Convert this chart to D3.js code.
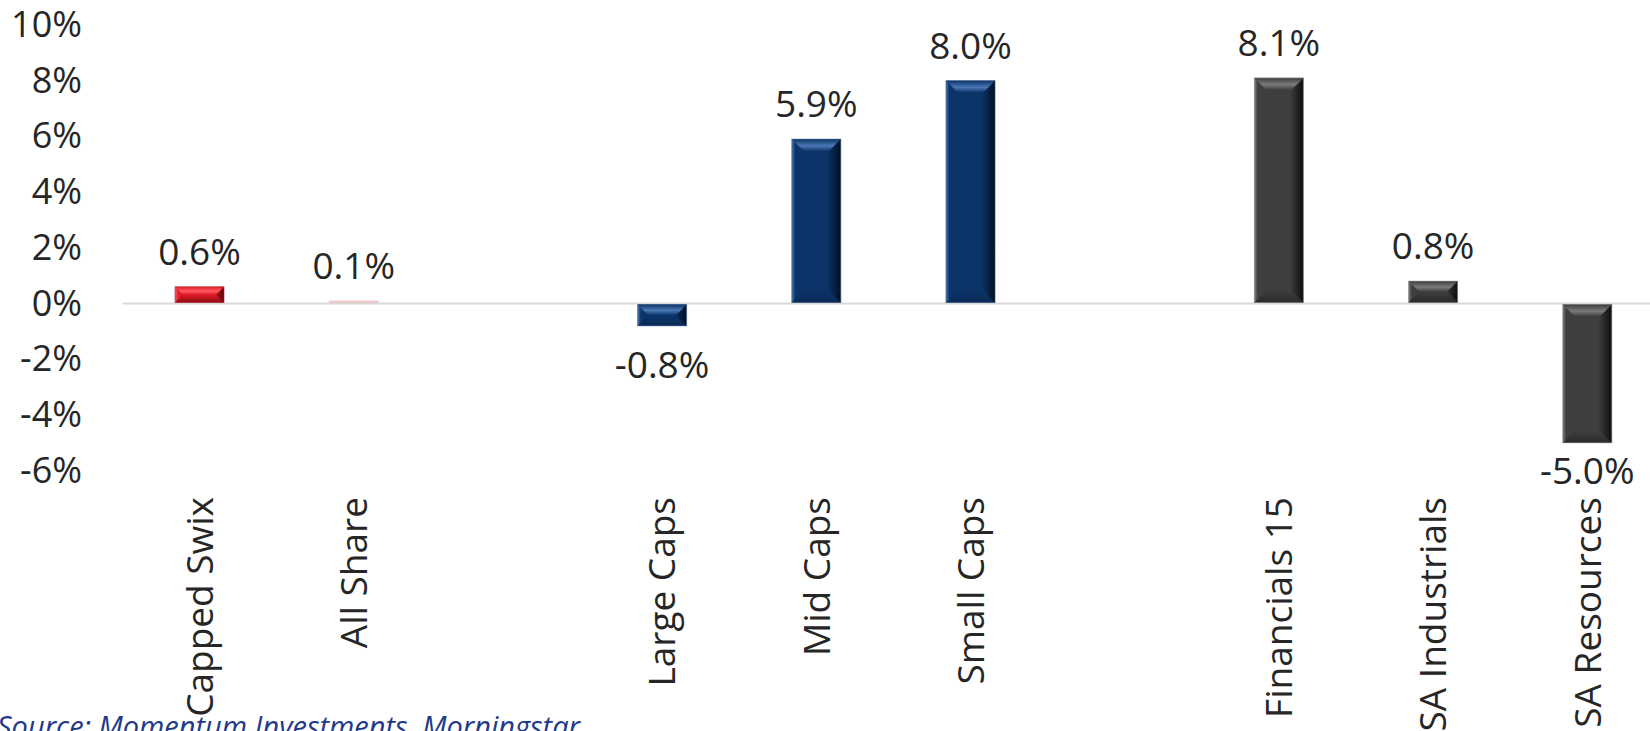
<!DOCTYPE html>
<html>
<head>
<meta charset="utf-8">
<script src="https://cdn.jsdelivr.net/npm/d3@7"></script>
<style>
  body { margin: 0; background: #fff; }
  svg { display: block; font-family: "Open Sans", "Noto Sans", sans-serif; }
</style>
</head>
<body>
<div id="chart"></div>
<script>
// Index returns (%), blank slots separate the groups
const categories = ["Capped Swix", "All Share", "", "Large Caps", "Mid Caps", "Small Caps", "", "Financials 15", "SA Industrials", "SA Resources"];
const returns = [0.6, 0.1, null, -0.8, 5.9, 8.0, null, 8.1, 0.8, -5.0];
const groups = ["index", "index", null, "size", "size", "size", null, "sector", "sector", "sector"];
const yTicks = [-6, -4, -2, 0, 2, 4, 6, 8, 10];
const source = "Source: Momentum Investments, Morningstar";

const W = 1650, H = 731;
const plot = { left: 122.4, right: 1664.4, top: 25, bottom: 470.6 };

// bevel colours per group: body, highlight, shadow, edge
const palette = {
  index:  { base: "#e01b25", hi: "#ff5a62", lo: "#8a0c12", dark: "#5c0508", edge: "#b0343a" },
  size:   { base: "#0b3469", hi: "#4a78b4", lo: "#0a2a55", dark: "#020f22", edge: "#3b5a86" },
  sector: { base: "#3e3e3e", hi: "#7a7a7a", lo: "#2a2a2a", dark: "#0e0e0e", edge: "#808080" }
};

const svg = d3.select("#chart")
  .append("svg")
    .attr("width", W)
    .attr("height", H);

const defs = svg.append("defs");
Object.entries(palette).forEach(([k, c]) => {
  const side = defs.append("linearGradient").attr("id", `side-${k}`)
    .attr("x1", 0).attr("x2", 1).attr("y1", 0).attr("y2", 0);
  side.append("stop").attr("offset", "0%").attr("stop-color", c.hi);
  side.append("stop").attr("offset", "7%").attr("stop-color", c.base);
  side.append("stop").attr("offset", "72%").attr("stop-color", c.base);
  side.append("stop").attr("offset", "100%").attr("stop-color", c.dark);

  const top = defs.append("linearGradient").attr("id", `top-${k}`)
    .attr("x1", 0).attr("x2", 0).attr("y1", 0).attr("y2", 1);
  top.append("stop").attr("offset", "0%").attr("stop-color", c.base);
  top.append("stop").attr("offset", "55%").attr("stop-color", c.hi);
  top.append("stop").attr("offset", "100%").attr("stop-color", c.base);

  const bot = defs.append("linearGradient").attr("id", `bot-${k}`)
    .attr("x1", 0).attr("x2", 0).attr("y1", 0).attr("y2", 1);
  bot.append("stop").attr("offset", "0%").attr("stop-color", c.base);
  bot.append("stop").attr("offset", "100%").attr("stop-color", c.lo);
});

const x = d3.scaleBand()
  .domain(d3.range(categories.length))
  .range([plot.left, plot.right])
  .paddingInner(0.682)
  .paddingOuter(0.341);

const y = d3.scaleLinear()
  .domain([-6, 10])
  .range([plot.bottom, plot.top]);

// Y axis
const yAxis = svg.append("g")
  .attr("transform", "translate(92,0)")
  .call(d3.axisLeft(y).tickValues(yTicks).tickSize(0).tickPadding(10).tickFormat(d => d + "%"));
yAxis.select(".domain").remove();
yAxis.selectAll("text")
  .attr("font-size", "36px")
  .attr("font-family", "Open Sans, sans-serif")
  .attr("fill", "#262626");

// zero line
svg.append("line")
  .attr("x1", plot.left).attr("x2", plot.right)
  .attr("y1", y(0)).attr("y2", y(0))
  .attr("stroke", "#d9d9d9")
  .attr("stroke-width", 2);

const data = categories.map((c, i) => ({ i, name: c, v: returns[i], g: groups[i] }))
  .filter(d => d.v !== null);

// bevelled bars
const bars = svg.selectAll("g.bar")
  .data(data)
  .enter().append("g")
    .attr("class", "bar");

bars.each(function(d) {
  const g = d3.select(this);
  const x0 = x(d.i), w = x.bandwidth(), x1 = x0 + w;
  const yt = d.v >= 0 ? y(d.v) : y(0) + 1;
  const yb = d.v >= 0 ? y(0) - 1 : y(d.v);
  const h = Math.max(yb - yt, 0.5);
  const b = Math.min(12, h / 2);
  const c = palette[d.g];

  // very thin bars only show the faint bevel highlight
  if (h < 4) g.attr("opacity", 0.2);

  g.append("rect")
    .attr("x", x0).attr("y", yt)
    .attr("width", w).attr("height", h)
    .attr("fill", `url(#side-${d.g})`);
  g.append("polygon")
    .attr("points", [[x0, yt], [x1, yt], [x1 - b, yt + b], [x0 + b, yt + b]].join(" "))
    .attr("fill", `url(#top-${d.g})`);
  g.append("polygon")
    .attr("points", [[x0 + b, yt + h - b], [x1 - b, yt + h - b], [x1, yt + h], [x0, yt + h]].join(" "))
    .attr("fill", `url(#bot-${d.g})`);
  g.append("rect")
    .attr("x", x0).attr("y", yt)
    .attr("width", w).attr("height", h)
    .attr("fill", "none")
    .attr("stroke", c.edge)
    .attr("stroke-opacity", 0.6)
    .attr("stroke-width", 1);
});

// value labels
svg.selectAll("text.val")
  .data(data)
  .enter().append("text")
    .attr("class", "val")
    .attr("x", d => x(d.i) + x.bandwidth() / 2)
    .attr("y", d => d.v >= 0 ? y(d.v) - 22 : Math.min(y(d.v) + 52, plot.bottom + 13))
    .attr("text-anchor", "middle")
    .attr("font-size", "37px")
    .attr("fill", "#262626")
    .text(d => d.v.toFixed(1) + "%");

// category labels, rotated
svg.selectAll("text.cat")
  .data(data)
  .enter().append("text")
    .attr("class", "cat")
    .attr("transform", d => `translate(${x(d.i) + x.bandwidth() / 2},497) rotate(-90)`)
    .attr("dy", "0.36em")
    .attr("text-anchor", "end")
    .attr("font-size", "37px")
    .attr("fill", "#262626")
    .text(d => d.name);

// source note
svg.append("text")
  .attr("x", -3)
  .attr("y", 737)
  .attr("font-size", "29px")
  .attr("font-style", "italic")
  .attr("fill", "#1f3a8a")
  .text(source);
</script>
</body>
</html>
